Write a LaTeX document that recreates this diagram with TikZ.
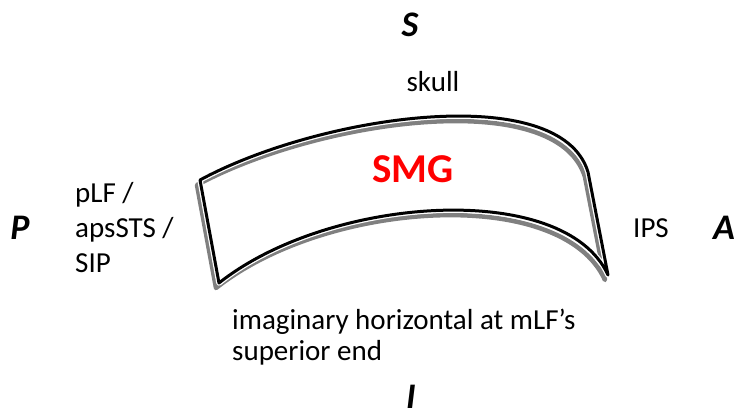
\documentclass[tikz,border=0pt]{standalone}
\usepackage{fontspec}
\setmainfont{Carlito}
\usepackage{tikz}

\begin{document}
\begin{tikzpicture}[
    x=1pt, y=-1pt,
    every node/.style={font=\fontsize{29}{35}\selectfont, inner sep=0pt},
    lab/.style={align=left},
    dirl/.style={font=\fontsize{36}{36}\selectfont\bfseries\itshape},
    rim/.style={line width=3pt, line join=round},
    halo/.style={line width=5.5pt, white, line join=round},
    shade/.style={line width=4.5pt, black!50, line join=round},
  ]
  \useasboundingbox (0,0) rectangle (737,416);
  \def\band{(200,180) .. controls (320,115) and (560,80) .. (588,172)
      -- (608,275) .. controls (565,180) and (330,195) .. (219,283) -- cycle}

  % -- the gyrus band, grey shadow under a black rim --
  \draw[shade, shift={(-3,5)}] \band;
  \draw[halo] \band;
  \draw[rim] \band;

  % -- directions --
  \node[dirl] (sup)  at (410,25)  {S};
  \node[dirl] (post) at (20,228)  {P};
  \node[dirl] (ant)  at (724,228) {A};
  \node[dirl] (inf)  at (411,397) {I};

  % -- borders of the gyrus --
  \node (skull) at (433,82) {skull};
  \node[font=\fontsize{41}{41}\selectfont\bfseries, text=red] (smg) at (413,169) {SMG};
  \node[lab, anchor=west] (rear) at (75,228) {pLF /\\apsSTS /\\SIP};
  \node (ips) at (651,228) {IPS};
  \node[lab, anchor=west, font=\fontsize{29}{31}\selectfont] (horiz) at (232,337)
       {imaginary horizontal at mLF’s\\superior end};
\end{tikzpicture}
\end{document}
